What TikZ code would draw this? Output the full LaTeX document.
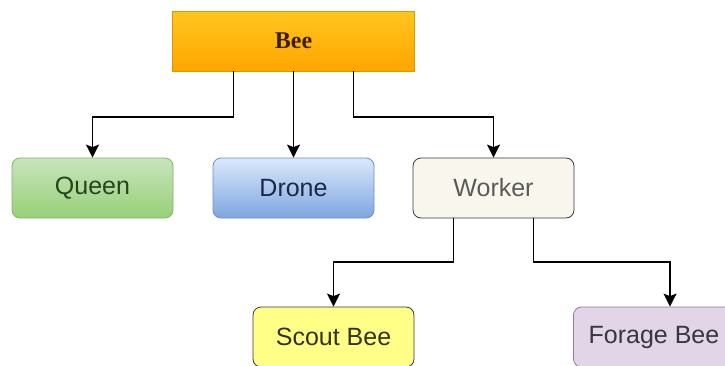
\documentclass[tikz,border=0pt]{standalone}
\usepackage{fontspec}
\setmainfont{Liberation Sans}
\newfontfamily\beeserif{Liberation Serif}
\usetikzlibrary{arrows.meta}

\begin{document}
\begin{tikzpicture}[x=1pt,y=-1pt,
  box/.style={rounded corners=8pt,minimum width=161pt,minimum height=60pt,line width=0.8pt,font=\fontsize{25}{29}\selectfont},
  link/.style={line width=1.7pt,-{Stealth[length=13pt,width=13pt,inset=2.5pt]}}]
% Define colors
\definecolor{beetop}{RGB}{255,198,30}
\definecolor{beebottom}{RGB}{255,165,0}
\definecolor{beeline}{RGB}{215,155,0}
\definecolor{beetext}{RGB}{60,30,0}
\definecolor{queentop}{RGB}{200,228,190}
\definecolor{queenbottom}{RGB}{151,208,119}
\definecolor{queenline}{RGB}{130,179,102}
\definecolor{dronetop}{RGB}{218,232,252}
\definecolor{dronebottom}{RGB}{126,166,224}
\definecolor{droneline}{RGB}{108,142,191}
\definecolor{workerfill}{RGB}{249,247,237}
\definecolor{darkline}{RGB}{54,57,61}
\definecolor{scoutfill}{RGB}{255,255,136}
\definecolor{foragefill}{RGB}{225,213,231}
\definecolor{forageline}{RGB}{150,115,166}

% Fix the margins
\useasboundingbox (0,0) rectangle (725,365);

% Root
\node[draw=beeline,top color=beetop,bottom color=beebottom,minimum width=242pt,minimum height=60pt,line width=0.8pt,text=beetext,font=\beeserif\bfseries\fontsize{24}{28}\selectfont] (bee) at (293.5,41) {Bee};

% First level
\node[box,draw=queenline,top color=queentop,bottom color=queenbottom,text={rgb,255:red,40;green,68;blue,30}] (queen) at (92.5,188) {Queen};
\node[box,draw=droneline,top color=dronetop,bottom color=dronebottom,text={rgb,255:red,28;green,40;blue,72}] (drone) at (293.5,188) {Drone};
\node[box,draw=darkline,fill=workerfill,text={rgb,255:red,90;green,90;blue,90}] (worker) at (493.5,188) {Worker};

% Second level
\node[box,draw=darkline,fill=scoutfill,text={rgb,255:red,50;green,50;blue,20}] (scout) at (333.5,337) {Scout Bee};
\node[box,draw=forageline,fill=foragefill,text={rgb,255:red,55;green,55;blue,60}] (forage) at (654,337) {Forage Bee};

% Split heights
\coordinate (split1) at (0,117);
\coordinate (split2) at (0,262);

% Connectors
\draw[link] ([xshift=-60pt]bee.south) |- (split1 -| queen.north) -- (queen.north);
\draw[link] (bee.south) -- (drone.north);
\draw[link] ([xshift=60pt]bee.south) |- (split1 -| worker.north) -- (worker.north);
\draw[link] ([xshift=-40pt]worker.south) |- (split2 -| scout.north) -- (scout.north);
\draw[link] ([xshift=40pt]worker.south) |- ([xshift=16pt]split2 -| forage.north) -- ([xshift=16pt]forage.north);
\end{tikzpicture}
\end{document}
